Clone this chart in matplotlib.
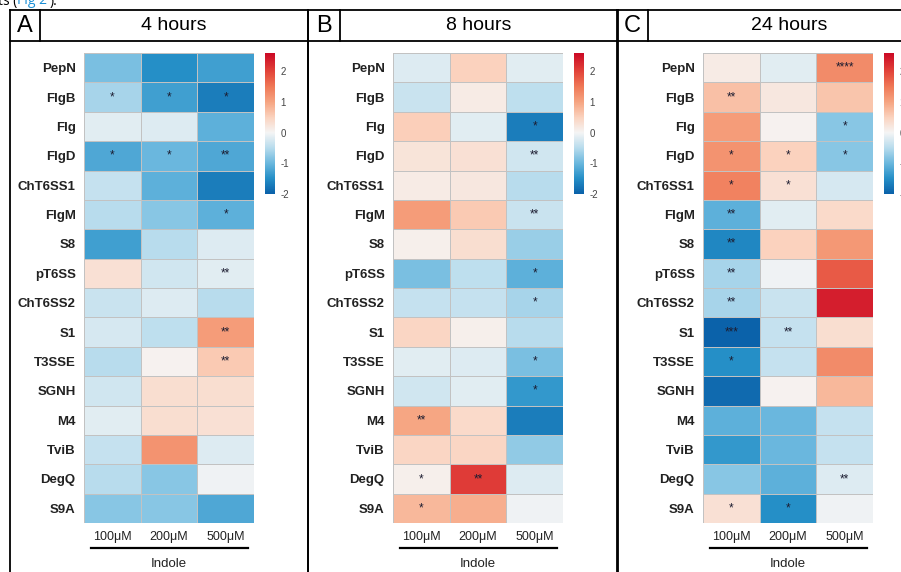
import numpy as np
import matplotlib
matplotlib.use("Agg")
import matplotlib.pyplot as plt
from matplotlib.colors import LinearSegmentedColormap, Normalize
from matplotlib.lines import Line2D

plt.rcParams['font.family'] = ['Liberation Sans', 'DejaVu Sans']

genes = ["PepN", "FlgB", "Flg", "FlgD", "ChT6SS1", "FlgM", "S8", "pT6SS",
         "ChT6SS2", "S1", "T3SSE", "SGNH", "M4", "TviB", "DegQ", "S9A"]
doses = ["100μM", "200μM", "500μM"]
titles = ["4 hours", "8 hours", "24 hours"]
letters = ["A", "B", "C"]

# log fold change, columns 100 / 200 / 500 uM
vals_4h = [[-0.9, -1.5, -1.3], [-0.6, -1.3, -1.7], [-0.15, -0.2, -1.1],
           [-1.2, -1.0, -1.2], [-0.4, -1.1, -1.7], [-0.5, -0.8, -1.1],
           [-1.3, -0.5, -0.2], [0.3, -0.3, -0.15], [-0.35, -0.2, -0.5],
           [-0.25, -0.45, 1.1], [-0.5, 0.05, 0.6], [-0.3, 0.35, 0.35],
           [-0.15, 0.35, 0.3], [-0.4, 1.2, -0.2], [-0.5, -0.8, -0.05],
           [-0.8, -0.8, -1.2]]
vals_8h = [[-0.2, 0.5, -0.15], [-0.35, 0.15, -0.45], [0.55, -0.15, -1.7],
           [0.25, 0.3, -0.3], [0.15, 0.2, -0.5], [1.1, 0.6, -0.35],
           [0.1, 0.35, -0.7], [-0.9, -0.45, -1.1], [-0.4, -0.4, -0.6],
           [0.45, 0.1, -0.5], [-0.15, -0.2, -0.9], [-0.3, -0.15, -1.4],
           [1.0, 0.4, -1.7], [0.45, 0.45, -0.75], [0.1, 2.1, -0.2],
           [0.8, 0.9, -0.05]]
vals_24h = [[0.15, -0.15, 1.3], [0.7, 0.2, 0.65], [1.1, 0.05, -0.8],
            [1.2, 0.5, -0.8], [1.4, 0.3, -0.25], [-1.1, -0.15, 0.4],
            [-1.6, 0.5, 1.15], [-0.6, -0.05, 1.8], [-0.6, -0.35, 2.4],
            [-2.0, -0.4, 0.35], [-1.5, -0.4, 1.3], [-1.9, 0.05, 0.8],
            [-1.1, -1.0, -0.4], [-1.4, -1.0, -0.4], [-0.8, -1.1, -0.2],
            [0.3, -1.5, -0.05]]

stars_4h = [["", "", ""], ["*", "*", "*"], ["", "", ""], ["*", "*", "**"],
            ["", "", ""], ["", "", "*"], ["", "", ""], ["", "", "**"],
            ["", "", ""], ["", "", "**"], ["", "", "**"], ["", "", ""],
            ["", "", ""], ["", "", ""], ["", "", ""], ["", "", ""]]
stars_8h = [["", "", ""], ["", "", ""], ["", "", "*"], ["", "", "**"],
            ["", "", ""], ["", "", "**"], ["", "", ""], ["", "", "*"],
            ["", "", "*"], ["", "", ""], ["", "", "*"], ["", "", "*"],
            ["**", "", ""], ["", "", ""], ["*", "**", ""], ["*", "", ""]]
stars_24h = [["", "", "****"], ["**", "", ""], ["", "", "*"], ["*", "*", "*"],
             ["*", "*", ""], ["**", "", ""], ["**", "", ""], ["**", "", ""],
             ["**", "", ""], ["***", "**", ""], ["*", "", ""], ["", "", ""],
             ["", "", ""], ["", "", ""], ["", "", "**"], ["*", "*", ""]]

all_vals = [vals_4h, vals_8h, vals_24h]
all_stars = [stars_4h, stars_8h, stars_24h]

W, H = 901, 572
VMIN, VMAX = -2.0, 2.6


def box(x0, y0, x1, y1):
    return [x0 / W, 1 - y1 / H, (x1 - x0) / W, (y1 - y0) / H]


def pos(v):
    return (v - VMIN) / (VMAX - VMIN)


cmap = LinearSegmentedColormap.from_list("lfc", [
    (pos(-2.0), "#0b62aa"), (pos(-1.5), "#2690c8"), (pos(-1.0), "#6bb8de"),
    (pos(-0.5), "#b8dced"), (pos(0.0), "#f5f5f5"), (pos(0.5), "#fbd3bf"),
    (pos(1.0), "#f6a582"), (pos(1.5), "#f07a58"), (pos(2.0), "#e3463b"),
    (pos(2.6), "#cc0a26")])
norm = Normalize(VMIN, VMAX)

fig = plt.figure(figsize=(W / 100, H / 100), dpi=100)

# clipped caption text at the very top
fig.text(-2 / W, 1 - 1 / H, "ts (", fontsize=10, va="center", ha="left",
         family="Open Sans")
fig.text(17 / W, 1 - 1 / H, "Fig 2", fontsize=10, va="center", ha="left",
         color="#1a8fd6", family="Open Sans")
fig.text(50 / W, 1 - 1 / H, ").", fontsize=10, va="center", ha="left",
         family="Open Sans")

panel_x = [(10, 308, 40), (308, 618, 340), (617, 915, 648)]
heat_x = [84, 393, 703]
lw = 1.3

for i in range(3):
    px0, px1, pdiv = panel_x[i]
    # frames
    for seg in [((px0, px1), (10, 10)), ((px0, px1), (41, 41)),
                ((px0, px0), (10, 600)), ((px1, px1), (10, 600)),
                ((pdiv, pdiv), (10, 41))]:
        fig.add_artist(Line2D([seg[0][0] / W, seg[0][1] / W],
                              [1 - seg[1][0] / H, 1 - seg[1][1] / H],
                              color="black", lw=lw))
    fig.text((px0 + pdiv) / 2 / W, 1 - 26 / H, letters[i], fontsize=17,
             ha="center", va="center")
    title_x = (pdiv + px1) / 2 if i < 2 else 789
    fig.text(title_x / W, 1 - 26 / H, titles[i], fontsize=14,
             ha="center", va="center")

    hx = heat_x[i]
    ax = fig.add_axes(box(hx, 53, hx + 170, 523))
    data = np.array(all_vals[i])
    ax.pcolormesh(np.arange(4), np.arange(17), data, cmap=cmap, norm=norm,
                  edgecolors="#c2c2c2", linewidth=0.6)
    ax.set_xlim(0, 3)
    ax.set_ylim(16, 0)
    for r in range(16):
        for c in range(3):
            s = all_stars[i][r][c]
            if s:
                ax.text(c + 0.5, r + 0.5, s, ha="center", va="center",
                        fontsize=8.5, color="#1c1c30")
    ax.set_yticks(np.arange(16) + 0.5)
    ax.set_yticklabels(genes, fontsize=9.5, fontweight="bold", color="#222222")
    ax.set_xticks(np.arange(3) + 0.5)
    ax.set_xticklabels(doses, fontsize=9, color="#222222")
    ax.tick_params(length=0, pad=6)
    for sp in ax.spines.values():
        sp.set_visible(False)

    fig.add_artist(Line2D([(hx + 7) / W, (hx + 164) / W],
                          [1 - 548 / H, 1 - 548 / H], color="black", lw=1.6))
    fig.text((hx + 85) / W, 1 - 564 / H, "Indole", fontsize=9.5,
             ha="center", va="center", color="#222222")

    cax = fig.add_axes(box(hx + 181, 53, hx + 191, 194))
    grad = np.linspace(VMIN, VMAX, 200).reshape(-1, 1)
    cax.imshow(grad, aspect="auto", cmap=cmap, norm=norm, origin="lower",
               extent=[0, 1, VMIN, VMAX])
    cax.set_xticks([])
    cax.yaxis.tick_right()
    cax.set_yticks([-2, -1, 0, 1, 2])
    cax.set_yticklabels(["-2", "-1", "0", "1", "2"], fontsize=7, color="#444444")
    cax.tick_params(axis="y", length=2, width=0.5, color="white", pad=2)
    for sp in cax.spines.values():
        sp.set_visible(False)

fig.savefig("out.png", dpi=100)
